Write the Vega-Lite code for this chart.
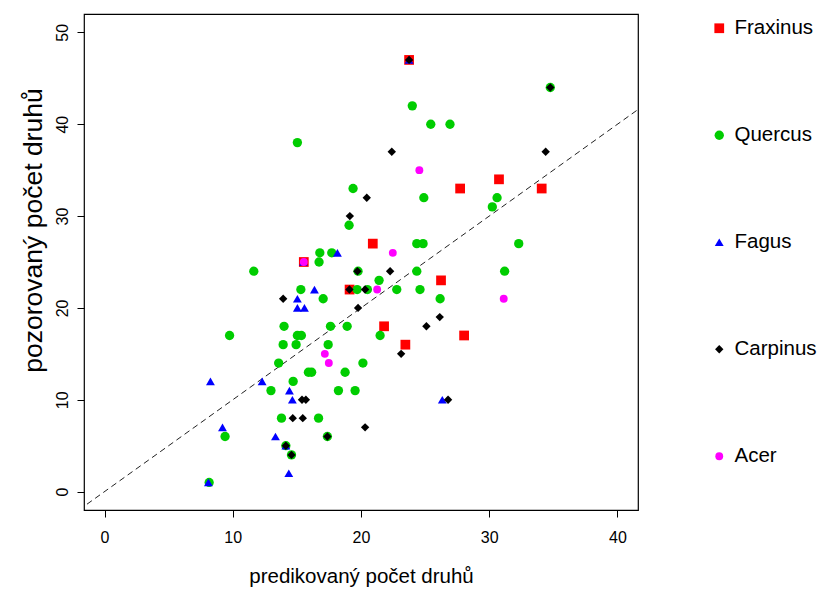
{
  "$schema": "https://vega.github.io/schema/vega-lite/v6.json",
  "width": 554,
  "height": 496,
  "autosize": {"type": "none"},
  "padding": {"left": 84, "top": 14, "right": 184, "bottom": 79},
  "background": "white",
  "config": {
    "view": {"stroke": "black", "strokeWidth": 1.2},
    "font": "Liberation Sans",
    "axis": {"labelFont": "Liberation Sans", "titleFont": "Liberation Sans", "labelColor": "black", "titleColor": "black", "tickColor": "black", "grid": false, "domain": false, "titleFontWeight": "normal"}
  },
  "encoding": {
    "x": {"field": "predicted", "type": "quantitative", "scale": {"domain": [-1.6, 41.6], "nice": false, "zero": false},
      "axis": {"values": [0, 10, 20, 30, 40], "tickSize": 7, "labelFontSize": 16, "labelPadding": 12, "title": "predikovaný počet druhů", "titleFontSize": 20.5, "titlePadding": 21}},
    "y": {"field": "observed", "type": "quantitative", "scale": {"domain": [-2, 52], "nice": false, "zero": false},
      "axis": {"values": [0, 10, 20, 30, 40, 50], "tickSize": 7, "labelFontSize": 16, "labelAngle": 270, "labelAlign": "center", "labelBaseline": "alphabetic", "labelPadding": 10, "title": "pozorovaný počet druhů", "titleFontSize": 26.5, "titleAngle": 270, "titleAlign": "center", "titleBaseline": "alphabetic", "titleX": -43, "titleY": 216}}
  },
  "layer": [
    {
      "data": {"values": [{"predicted": -2, "observed": -2}, {"predicted": 44, "observed": 44}]},
      "mark": {"type": "line", "clip": true, "color": "#222222", "strokeWidth": 1, "strokeDash": [6, 4]}
    },
    {
      "data": {"values": [
        {"species": "Fraxinus", "predicted": 23.75, "observed": 47},
        {"species": "Fraxinus", "predicted": 30.76, "observed": 34},
        {"species": "Fraxinus", "predicted": 27.73, "observed": 33},
        {"species": "Fraxinus", "predicted": 34.09, "observed": 33},
        {"species": "Fraxinus", "predicted": 20.92, "observed": 27},
        {"species": "Fraxinus", "predicted": 19.11, "observed": 22},
        {"species": "Fraxinus", "predicted": 26.24, "observed": 23},
        {"species": "Fraxinus", "predicted": 21.8, "observed": 18},
        {"species": "Fraxinus", "predicted": 28.04, "observed": 17},
        {"species": "Fraxinus", "predicted": 23.46, "observed": 16},
        {"species": "Fraxinus", "predicted": 15.54, "observed": 25},
        {"species": "Quercus", "predicted": 15.04, "observed": 38},
        {"species": "Quercus", "predicted": 19.38, "observed": 33},
        {"species": "Quercus", "predicted": 19.07, "observed": 29},
        {"species": "Quercus", "predicted": 16.79, "observed": 26},
        {"species": "Quercus", "predicted": 17.72, "observed": 26},
        {"species": "Quercus", "predicted": 24.0, "observed": 42},
        {"species": "Quercus", "predicted": 25.44, "observed": 40},
        {"species": "Quercus", "predicted": 26.94, "observed": 40},
        {"species": "Quercus", "predicted": 34.76, "observed": 44},
        {"species": "Quercus", "predicted": 24.9, "observed": 32},
        {"species": "Quercus", "predicted": 30.61, "observed": 32},
        {"species": "Quercus", "predicted": 30.24, "observed": 31},
        {"species": "Quercus", "predicted": 24.35, "observed": 27},
        {"species": "Quercus", "predicted": 24.84, "observed": 27},
        {"species": "Quercus", "predicted": 32.3, "observed": 27},
        {"species": "Quercus", "predicted": 19.77, "observed": 24},
        {"species": "Quercus", "predicted": 24.35, "observed": 24},
        {"species": "Quercus", "predicted": 31.2, "observed": 24},
        {"species": "Quercus", "predicted": 21.41, "observed": 23},
        {"species": "Quercus", "predicted": 19.7, "observed": 22},
        {"species": "Quercus", "predicted": 20.5, "observed": 22},
        {"species": "Quercus", "predicted": 22.79, "observed": 22},
        {"species": "Quercus", "predicted": 24.6, "observed": 22},
        {"species": "Quercus", "predicted": 26.17, "observed": 21},
        {"species": "Quercus", "predicted": 18.92, "observed": 18},
        {"species": "Quercus", "predicted": 21.49, "observed": 17},
        {"species": "Quercus", "predicted": 20.15, "observed": 14},
        {"species": "Quercus", "predicted": 18.76, "observed": 13},
        {"species": "Quercus", "predicted": 18.24, "observed": 11},
        {"species": "Quercus", "predicted": 19.54, "observed": 11},
        {"species": "Quercus", "predicted": 16.73, "observed": 25},
        {"species": "Quercus", "predicted": 11.64, "observed": 24},
        {"species": "Quercus", "predicted": 15.31, "observed": 22},
        {"species": "Quercus", "predicted": 17.05, "observed": 21},
        {"species": "Quercus", "predicted": 14.0, "observed": 18},
        {"species": "Quercus", "predicted": 17.62, "observed": 18},
        {"species": "Quercus", "predicted": 9.75, "observed": 17},
        {"species": "Quercus", "predicted": 15.04, "observed": 17},
        {"species": "Quercus", "predicted": 15.35, "observed": 17},
        {"species": "Quercus", "predicted": 13.93, "observed": 16},
        {"species": "Quercus", "predicted": 14.94, "observed": 16},
        {"species": "Quercus", "predicted": 17.44, "observed": 16},
        {"species": "Quercus", "predicted": 13.58, "observed": 14},
        {"species": "Quercus", "predicted": 15.9, "observed": 13},
        {"species": "Quercus", "predicted": 16.15, "observed": 13},
        {"species": "Quercus", "predicted": 14.71, "observed": 12},
        {"species": "Quercus", "predicted": 12.98, "observed": 11},
        {"species": "Quercus", "predicted": 13.8, "observed": 8},
        {"species": "Quercus", "predicted": 16.69, "observed": 8},
        {"species": "Quercus", "predicted": 9.4, "observed": 6},
        {"species": "Quercus", "predicted": 17.38, "observed": 6},
        {"species": "Quercus", "predicted": 14.14, "observed": 5},
        {"species": "Quercus", "predicted": 14.58, "observed": 4},
        {"species": "Quercus", "predicted": 8.16, "observed": 1},
        {"species": "Fagus", "predicted": 23.75, "observed": 47},
        {"species": "Fagus", "predicted": 18.16, "observed": 26},
        {"species": "Fagus", "predicted": 15.51, "observed": 25},
        {"species": "Fagus", "predicted": 16.37, "observed": 22},
        {"species": "Fagus", "predicted": 15.04, "observed": 21},
        {"species": "Fagus", "predicted": 15.04, "observed": 20},
        {"species": "Fagus", "predicted": 15.59, "observed": 20},
        {"species": "Fagus", "predicted": 8.26, "observed": 12},
        {"species": "Fagus", "predicted": 12.29, "observed": 12},
        {"species": "Fagus", "predicted": 14.42, "observed": 11},
        {"species": "Fagus", "predicted": 14.65, "observed": 10},
        {"species": "Fagus", "predicted": 9.2, "observed": 7},
        {"species": "Fagus", "predicted": 13.33, "observed": 6},
        {"species": "Fagus", "predicted": 14.14, "observed": 5},
        {"species": "Fagus", "predicted": 14.37, "observed": 2},
        {"species": "Fagus", "predicted": 8.1, "observed": 1},
        {"species": "Fagus", "predicted": 26.34, "observed": 10},
        {"species": "Carpinus", "predicted": 23.75, "observed": 47},
        {"species": "Carpinus", "predicted": 34.76, "observed": 44},
        {"species": "Carpinus", "predicted": 22.4, "observed": 37},
        {"species": "Carpinus", "predicted": 34.4, "observed": 37},
        {"species": "Carpinus", "predicted": 20.45, "observed": 32},
        {"species": "Carpinus", "predicted": 19.13, "observed": 30},
        {"species": "Carpinus", "predicted": 19.72, "observed": 24},
        {"species": "Carpinus", "predicted": 22.27, "observed": 24},
        {"species": "Carpinus", "predicted": 19.1, "observed": 22},
        {"species": "Carpinus", "predicted": 20.32, "observed": 22},
        {"species": "Carpinus", "predicted": 19.77, "observed": 20},
        {"species": "Carpinus", "predicted": 25.1, "observed": 18},
        {"species": "Carpinus", "predicted": 26.14, "observed": 19},
        {"species": "Carpinus", "predicted": 23.13, "observed": 15},
        {"species": "Carpinus", "predicted": 26.79, "observed": 10},
        {"species": "Carpinus", "predicted": 20.32, "observed": 7},
        {"species": "Carpinus", "predicted": 13.93, "observed": 21},
        {"species": "Carpinus", "predicted": 15.4, "observed": 10},
        {"species": "Carpinus", "predicted": 15.7, "observed": 10},
        {"species": "Carpinus", "predicted": 14.68, "observed": 8},
        {"species": "Carpinus", "predicted": 15.46, "observed": 8},
        {"species": "Carpinus", "predicted": 17.38, "observed": 6},
        {"species": "Carpinus", "predicted": 14.14, "observed": 5},
        {"species": "Carpinus", "predicted": 14.58, "observed": 4},
        {"species": "Acer", "predicted": 24.55, "observed": 35},
        {"species": "Acer", "predicted": 22.48, "observed": 26},
        {"species": "Acer", "predicted": 21.26, "observed": 22},
        {"species": "Acer", "predicted": 31.13, "observed": 21},
        {"species": "Acer", "predicted": 15.54, "observed": 25},
        {"species": "Acer", "predicted": 17.18, "observed": 15},
        {"species": "Acer", "predicted": 17.49, "observed": 14}
      ]},
      "mark": {"type": "point", "filled": true, "opacity": 1, "strokeWidth": 0},
      "encoding": {
        "color": {"field": "species", "type": "nominal",
          "scale": {"domain": ["Fraxinus", "Quercus", "Fagus", "Carpinus", "Acer"], "range": ["#FF0000", "#00CD00", "#0000FF", "#000000", "#FF00FF"]},
          "legend": {"orient": "none", "legendX": 625, "legendY": 4, "title": null, "labelFontSize": 20.5, "labelFont": "Liberation Sans", "labelColor": "black", "rowPadding": 86, "symbolSize": 90, "labelOffset": 5, "padding": 0, "symbolStrokeWidth": 0}},
        "shape": {"field": "species", "type": "nominal",
          "scale": {"domain": ["Fraxinus", "Quercus", "Fagus", "Carpinus", "Acer"], "range": ["square", "circle", "triangle-up", "diamond", "circle"]},
          "legend": {"orient": "none", "legendX": 625, "legendY": 4, "title": null, "labelFontSize": 20.5, "labelFont": "Liberation Sans", "labelColor": "black", "rowPadding": 86, "symbolSize": 90, "labelOffset": 5, "padding": 0, "symbolStrokeWidth": 0}},
        "size": {"field": "species", "type": "nominal",
          "scale": {"domain": ["Fraxinus", "Quercus", "Fagus", "Carpinus", "Acer"], "range": [95, 62, 135, 48, 62]},
          "legend": null}
      }
    }
  ]
}
